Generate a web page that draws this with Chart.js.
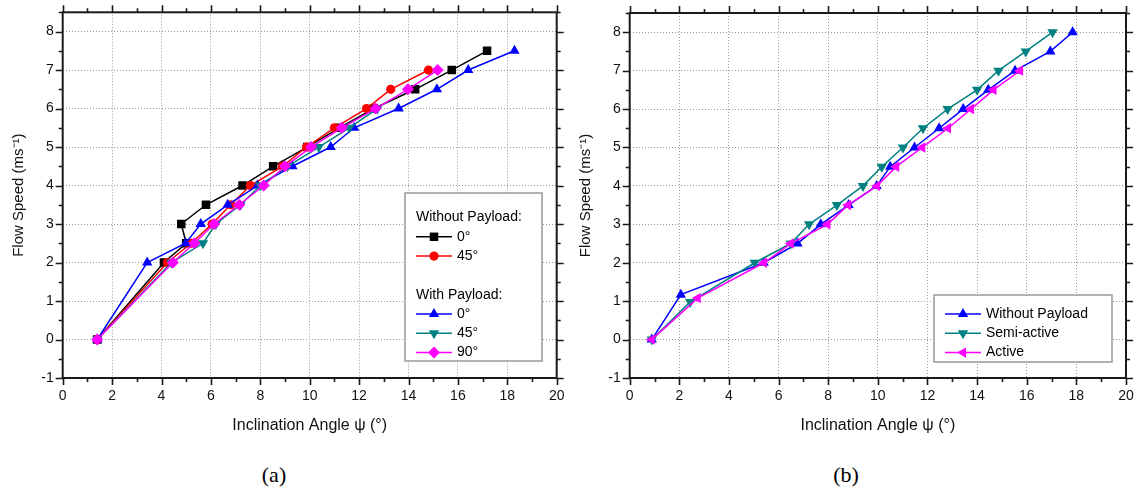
<!DOCTYPE html>
<html>
<head>
<meta charset="utf-8">
<script src="https://cdn.jsdelivr.net/npm/chart.js@4/dist/chart.umd.min.js"></script>
<style>
  body { margin: 0; background: #fff; }
  #wrap { position: relative; width: 1134px; height: 498px; background: #fff; overflow: hidden; }
  canvas { position: absolute; top: 0; }
  .cap { position: absolute; top: 462px; font-family: "Liberation Serif", "DejaVu Serif", serif; font-size: 22px; color: #000; transform: translateX(-50%); }
</style>
</head>
<body>
<div id="wrap">
  <canvas id="chartA" width="567" height="440" style="left:0"></canvas>
  <canvas id="chartB" width="567" height="440" style="left:567px"></canvas>
  <div class="cap" style="left:274px">(a)</div>
  <div class="cap" style="left:846px">(b)</div>
</div>
<script>
// ---- data (a) ----
var flowA = [0, 2, 2.5, 3, 3.5, 4, 4.5, 5, 5.5, 6, 6.5, 7, 7.5];
var noPay0 = [1.4, 4.1, 5.0, 4.8, 5.8, 7.28, 8.52, 9.9, 11.2, 12.6, 14.27, 15.75, 17.18];
var noPay45 = [1.4, 4.24, 5.2, 6.05, 6.8, 7.6, 8.9, 9.87, 11.0, 12.3, 13.28, 14.81];
var pay0 = [1.4, 3.42, 4.98, 5.59, 6.68, 7.89, 9.3, 10.85, 11.8, 13.6, 15.15, 16.42, 18.29];
var pay45 = [1.4, 4.4, 5.68, 6.2, 7.2, 8.0, 9.1, 10.37, 11.6, 12.74];
var pay90 = [1.4, 4.46, 5.33, 6.13, 7.15, 8.14, 9.0, 10.06, 11.3, 12.67, 13.98, 15.18];

// ---- data (b) ----
var flowNoPayB = [0, 1.17, 2, 2.5, 3, 3.5, 4, 4.5, 5, 5.5, 6, 6.5, 7, 7.5, 8];
var angNoPayB = [0.89, 2.06, 5.4, 6.76, 7.7, 8.82, 9.95, 10.5, 11.48, 12.47, 13.44, 14.45, 15.53, 16.95, 17.85];
var flowSemi = [0, 0.98, 2, 2.5, 3, 3.5, 4, 4.5, 5, 5.5, 6, 6.5, 7, 7.5, 8];
var angSemi = [0.89, 2.44, 5.04, 6.49, 7.23, 8.35, 9.4, 10.16, 11.01, 11.82, 12.81, 14.0, 14.86, 15.96, 17.04];
var flowActive = [0, 1.08, 2, 2.5, 3, 3.5, 4, 4.5, 5, 5.5, 6, 6.5, 7];
var angActive = [0.89, 2.74, 5.41, 6.49, 7.97, 8.8, 9.97, 10.74, 11.79, 12.83, 13.75, 14.66, 15.73];

var xTitle = "Inclination Angle \u03C8 (\u00B0)";
var yTitle = "Flow Speed (ms\u207B\u00B9)";
var FONT = "'Liberation Sans', Arial, sans-serif";

function pts(xs, ys) {
  return xs.map(function (v, i) { return { x: v, y: ys[i] }; });
}

function series(label, xs, ys, color, style, rot, r, order) {
  return {
    label: label, data: pts(xs, ys), showLine: true,
    borderColor: color, backgroundColor: color, borderWidth: 1.5,
    pointStyle: style, rotation: rot, pointRadius: r, pointHoverRadius: r,
    pointBackgroundColor: color, pointBorderColor: color, pointBorderWidth: 0,
    order: order
  };
}

// marker drawing for the legend
function marker(ctx, style, rot, r, x, y, color) {
  ctx.save();
  ctx.fillStyle = color;
  ctx.translate(x, y);
  ctx.rotate(rot * Math.PI / 180);
  ctx.beginPath();
  if (style === "rect") {
    var s = r * Math.SQRT1_2;
    ctx.rect(-s, -s, 2 * s, 2 * s);
  } else if (style === "circle") {
    ctx.arc(0, 0, r, 0, Math.PI * 2);
  } else if (style === "rectRot") {
    ctx.moveTo(-r, 0); ctx.lineTo(0, -r); ctx.lineTo(r, 0); ctx.lineTo(0, r);
  } else {
    for (var k = 0; k < 3; k++) {
      var a = k * 2 * Math.PI / 3;
      ctx.lineTo(Math.sin(a) * r, -Math.cos(a) * r);
    }
  }
  ctx.closePath();
  ctx.fill();
  ctx.restore();
}

var framePlugin = {
  id: "frame",
  afterDraw: function (chart) {
    var ctx = chart.ctx, a = chart.chartArea, x = chart.scales.x, y = chart.scales.y;
    ctx.save();
    ctx.strokeStyle = "#1a1a1a";
    ctx.lineWidth = 1.6;
    ctx.beginPath();
    for (var v = 0; v <= 20; v += 1) {
      var px = Math.round(x.getPixelForValue(v)) + 0.5;
      var len = v % 2 === 0 ? 7 : 4;
      ctx.moveTo(px, a.bottom); ctx.lineTo(px, a.bottom + len);
      ctx.moveTo(px, a.top); ctx.lineTo(px, a.top - len);
    }
    for (var w = -1; w <= 8.5; w += 0.5) {
      var py = Math.round(y.getPixelForValue(w)) + 0.5;
      var l2 = Number.isInteger(w) ? 7 : 4;
      ctx.moveTo(a.left, py); ctx.lineTo(a.left - l2, py);
      ctx.moveTo(a.right, py); ctx.lineTo(a.right + l2, py);
    }
    ctx.stroke();
    ctx.lineWidth = 2;
    ctx.strokeRect(a.left, a.top, a.right - a.left, a.bottom - a.top);
    ctx.restore();
  }
};

var legendPlugin = {
  id: "boxLegend",
  afterDraw: function (chart) {
    var o = chart.options.plugins.boxLegend;
    if (!o) return;
    var ctx = chart.ctx;
    ctx.save();
    ctx.fillStyle = "#fff";
    ctx.fillRect(o.x, o.y, o.w, o.h);
    ctx.strokeStyle = "#999";
    ctx.lineWidth = 1.5;
    ctx.strokeRect(o.x, o.y, o.w, o.h);
    ctx.font = "14px " + FONT;
    ctx.textBaseline = "middle";
    o.rows.forEach(function (row, i) {
      var ry = o.top + i * o.step;
      if (row === null) return;
      if (typeof row === "string") {
        ctx.fillStyle = "#000";
        ctx.fillText(row, o.x + 11, ry);
        return;
      }
      var ds = chart.data.datasets[row.ds];
      ctx.strokeStyle = ds.borderColor;
      ctx.lineWidth = 1.5;
      ctx.beginPath();
      ctx.moveTo(o.x + 11, ry); ctx.lineTo(o.x + 47, ry);
      ctx.stroke();
      marker(ctx, ds.pointStyle, ds.rotation, ds.pointRadius, o.x + 29, ry, ds.borderColor);
      ctx.fillStyle = "#000";
      ctx.fillText(row.text, o.x + 52, ry);
    });
    ctx.restore();
  }
};

function makeChart(id, datasets, legend, padRight, padTop) {
  return new Chart(document.getElementById(id), {
    type: "scatter",
    data: { datasets: datasets },
    options: {
      responsive: false,
      animation: false,
      layout: { padding: { top: padTop, right: padRight, left: 0, bottom: 0 } },
      plugins: { legend: { display: false }, tooltip: { enabled: false }, boxLegend: legend },
      scales: {
        x: {
          type: "linear", min: 0, max: 20,
          afterFit: function (s) { s.height = 62; s.paddingLeft = 0; s.paddingRight = 0; },
          afterBuildTicks: function (s) { s.ticks = s.ticks.filter(function (t) { return t.value % 2 === 0; }); },
          ticks: { stepSize: 2, padding: 10, color: "#111", font: { family: FONT, size: 14 }, maxRotation: 0 },
          grid: { color: "#999", lineWidth: 1, drawTicks: false },
          border: { display: false, dash: [1, 2] },
          title: { display: true, text: xTitle, color: "#111", font: { family: FONT, size: 16 }, padding: { bottom: 5 } }
        },
        y: {
          type: "linear", min: -1, max: 8.5,
          afterFit: function (s) { s.width = 62.7; s.paddingTop = 0; s.paddingBottom = 0; },
          afterBuildTicks: function (s) { s.ticks = s.ticks.filter(function (t) { return Number.isInteger(t.value); }); },
          ticks: { stepSize: 1, padding: 9, color: "#111", font: { family: FONT, size: 14 } },
          grid: { color: "#999", lineWidth: 1, drawTicks: false },
          border: { display: false, dash: [1, 2] },
          title: { display: true, text: yTitle, color: "#111", font: { family: FONT, size: 15 }, padding: { top: 10 } }
        }
      }
    },
    plugins: [framePlugin, legendPlugin]
  });
}

makeChart("chartA", [
  series("Without Payload 0\u00B0", noPay0, flowA, "#000000", "rect", 0, 6, 5),
  series("Without Payload 45\u00B0", noPay45, flowA, "#ff0000", "circle", 0, 4.6, 4),
  series("With Payload 0\u00B0", pay0, flowA, "#0000ff", "triangle", 0, 6, 3),
  series("With Payload 45\u00B0", pay45, flowA, "#008080", "triangle", 180, 6, 2),
  series("With Payload 90\u00B0", pay90, flowA, "#ff00ff", "rectRot", 0, 6, 1)
], {
  x: 405, y: 193, w: 137, h: 168, top: 217.5, step: 19.3,
  rows: ["Without Payload:", { ds: 0, text: "0\u00B0" }, { ds: 1, text: "45\u00B0" }, null,
         "With Payload:", { ds: 2, text: "0\u00B0" }, { ds: 3, text: "45\u00B0" }, { ds: 4, text: "90\u00B0" }]
}, 10.3, 12.3);

makeChart("chartB", [
  series("Without Payload", angNoPayB, flowNoPayB, "#0000ff", "triangle", 0, 6, 3),
  series("Semi-active", angSemi, flowSemi, "#008080", "triangle", 180, 6, 2),
  series("Active", angActive, flowActive, "#ff00ff", "triangle", -90, 6, 1)
], {
  x: 367, y: 295, w: 178, h: 67, top: 314, step: 19.3,
  rows: [{ ds: 0, text: "Without Payload" }, { ds: 1, text: "Semi-active" }, { ds: 2, text: "Active" }]
}, 8, 13);
</script>
</body>
</html>
